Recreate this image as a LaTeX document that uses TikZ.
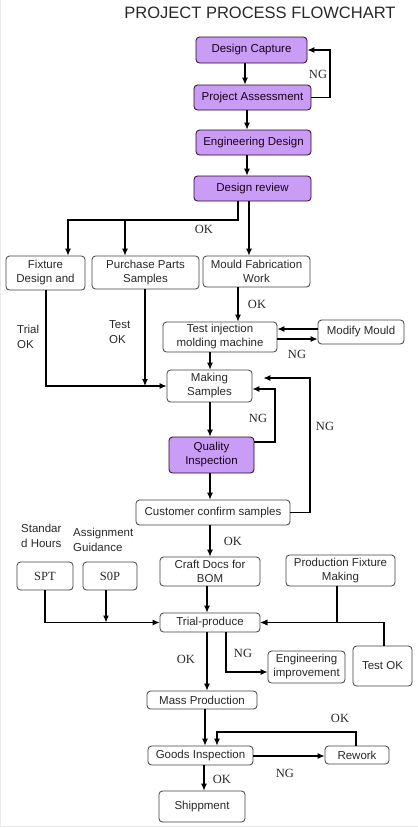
\documentclass[tikz,border=0pt]{standalone}
\usepackage{fontspec}
\setmainfont{Liberation Sans}
\newfontfamily\tagfont{Liberation Serif}
\usepackage{tikz}
\usetikzlibrary{arrows.meta}

\definecolor{lilac}{RGB}{201,157,245}
\definecolor{inkgray}{RGB}{40,40,40}

\tikzset{
  stage/.style={draw=black!75, line width=0.8pt, rounded corners=3.5pt, inner sep=1pt,
    align=center, text=inkgray, font=\fontsize{11.5}{14}\selectfont},
  keystage/.style={stage, fill=lilac, draw=black!65!violet, text=black!80!violet},
  tag/.style={inner sep=0pt, text=inkgray, font=\tagfont\fontsize{12.5}{14}\selectfont},
  note/.style={inner sep=0pt, anchor=west, align=left, text=inkgray, font=\fontsize{11.5}{15}\selectfont},
  flow/.style={line width=1.1pt, -{Latex[length=7pt,width=6pt]}},
}

\begin{document}
\begin{tikzpicture}[x=1pt, y=-1pt]
        \useasboundingbox (0,0) rectangle (418,828);
        \draw[black!8] (0.5,0) -- (0.5,826) -- (418,826);

        \node[text=inkgray, font=\fontsize{16.5}{18}\selectfont] (title) at (260,13) {PROJECT PROCESS FLOWCHART};

        % purple stages
        \node[keystage, minimum width=111pt, minimum height=26pt] (cap) at (251.5,50) {Design Capture};
        \node[keystage, minimum width=117pt, minimum height=25pt] (assess) at (252.5,97.5) {Project Assessment};
        \node[keystage, minimum width=115pt, minimum height=25pt] (engdes) at (253.5,142.5) {Engineering Design};
        \node[keystage, minimum width=117pt, minimum height=25pt] (review) at (252.5,188.5) {Design review};
        \node[keystage, minimum width=85pt, minimum height=36pt] (quality) at (211.5,455) {Quality\\Inspection};

        % plain stages
        \node[stage, minimum width=79pt, minimum height=34pt] (fixture) at (45.5,273) {Fixture\\Design and};
        \node[stage, minimum width=107pt, minimum height=33pt] (purchase) at (145.5,272.5) {Purchase Parts\\Samples};
        \node[stage, minimum width=107pt, minimum height=31pt] (mould) at (256.5,271.5) {Mould Fabrication\\Work};
        \node[stage, minimum width=114pt, minimum height=30pt] (inject) at (220,337) {Test injection\\molding machine};
        \node[stage, minimum width=86pt, minimum height=24pt] (modify) at (361,332) {Modify Mould};
        \node[stage, minimum width=85pt, minimum height=32pt] (making) at (209.5,386) {Making\\Samples};
        \node[stage, minimum width=154pt, minimum height=25pt] (confirm) at (213,512.5) {Customer confirm samples};
        \node[stage, minimum width=100pt, minimum height=29pt] (craft) at (210,571.5) {Craft Docs for\\BOM};
        \node[stage, minimum width=109pt, minimum height=31pt] (prodfix) at (340.5,570.5) {Production Fixture\\Making};
        \node[stage, font=\tagfont\fontsize{12.5}{14}\selectfont, minimum width=56pt, minimum height=28pt] (spt) at (45,576) {SPT};
        \node[stage, font=\tagfont\fontsize{12.5}{14}\selectfont, minimum width=54pt, minimum height=28pt] (sop) at (110,576) {S0P};
        \node[stage, minimum width=100pt, minimum height=19pt] (trial) at (210,622.5) {Trial-produce};
        \node[stage, minimum width=59pt, minimum height=40pt] (testok) at (382.5,666) {Test OK};
        \node[stage, minimum width=77pt, minimum height=32pt] (improve) at (306.5,667) {Engineering\\improvement};
        \node[stage, minimum width=110pt, minimum height=18pt] (mass) at (202,700) {Mass Production};
        \node[stage, minimum width=105pt, minimum height=19pt] (goods) at (200.5,755.5) {Goods Inspection};
        \node[stage, minimum width=64pt, minimum height=18pt] (rework) at (357,755) {Rework};
        \node[stage, minimum width=86pt, minimum height=31pt] (ship) at (202,806.5) {Shippment};

        % labels
        \node[tag] (ngcap) at (318,74) {NG};
        \node[tag] (okrev) at (204,229) {OK};
        \node[tag] (okmould) at (257,304) {OK};
        \node[note] (trialok) at (17,337) {Trial\\OK};
        \node[note] (testokl) at (109,332) {Test\\OK};
        \node[tag] (nginj) at (297,354) {NG};
        \node[tag] (ngqual) at (258,418) {NG};
        \node[tag] (ngcust) at (325,426) {NG};
        \node[tag] (okcust) at (233,541) {OK};
        \node[note] (hours) at (21,536) {Standar\\d Hours};
        \node[note] (guide) at (73,540) {Assignment\\Guidance};
        \node[tag] (oktrial) at (186,659) {OK};
        \node[tag] (ngtrial) at (243,653) {NG};
        \node[tag] (okrework) at (340,718) {OK};
        \node[tag] (nggoods) at (285,773) {NG};
        \node[tag] (okgoods) at (222,779) {OK};

        % connectors
        \coordinate (split) at (238,220);
        \coordinate (loopA) at (275,389);
        \coordinate (loopB) at (310,378);
        \coordinate (back) at (217,732);

        \draw[flow] (245,0 |- cap.south) -- (245,0 |- assess.north);
        \draw[flow] (assess.east) -| (330,0 |- cap.east) -- (cap.east);
        \draw[flow] (247,0 |- assess.south) -- (247,0 |- engdes.north);
        \draw[flow] (247,0 |- engdes.south) -- (247,0 |- review.north);
        \draw[flow] (238,0 |- review.south) -- (split) -| (68,0 |- fixture.north);
        \draw[flow] (split) -| (125,0 |- purchase.north);
        \draw[flow] (249,0 |- review.south) -- (249,0 |- mould.north);
        \draw[flow] (238,0 |- mould.south) -- (238,0 |- inject.north);
        \draw[flow] (modify.west |- 0,329) -- (inject.east |- 0,329);
        \draw[flow] (inject.east |- 0,339) -- (modify.west |- 0,339);
        \draw[flow] (210,0 |- inject.south) -- (210,0 |- making.north);
        \draw[flow] (46,0 |- fixture.south) |- (making.west);
        \draw[flow] (145,0 |- purchase.south) -- (145,0 |- making.west);
        \draw[flow] (210,0 |- making.south) -- (210,0 |- quality.north);
        \draw[flow] (quality.east |- 0,442) -| (loopA) -- (making.east |- loopA);
        \draw[flow, shorten >=11pt] (confirm.east) -| (loopB) -- (making.east |- loopB);
        \draw[flow] (210,0 |- quality.south) -- (210,0 |- confirm.north);
        \draw[flow] (210,0 |- confirm.south) -- (210,0 |- craft.north);
        \draw[flow] (207,0 |- craft.south) -- (207,0 |- trial.north);
        \draw[flow] (45,0 |- spt.south) |- (trial.west);
        \draw[flow] (106,0 |- sop.south) -- (106,0 |- trial.west);
        \draw[flow] (337,0 |- prodfix.south) |- (trial.east);
        \draw[flow] (384,0 |- testok.north) |- (trial.east);
        \draw[flow] (226,0 |- trial.south) |- (improve.west |- 0,672);
        \draw[flow] (207,0 |- trial.south) -- (207,0 |- mass.north);
        \draw[flow] (205,0 |- mass.south) -- (205,0 |- goods.north);
        \draw[flow] (goods.east |- 0,756) -- (rework.west |- 0,756);
        \draw[flow] (356,0 |- rework.north) |- (back) -- (back |- goods.north);
        \draw[flow] (204,0 |- goods.south) -- (204,0 |- ship.north);
    \end{tikzpicture}
\end{document}
